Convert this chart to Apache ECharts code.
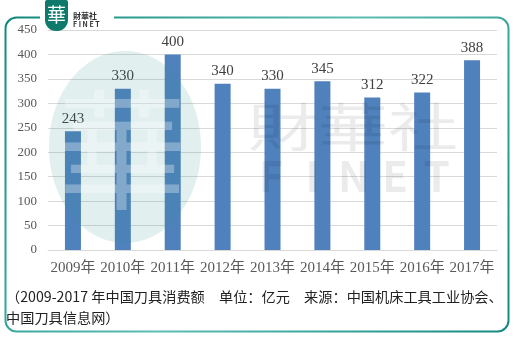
<!DOCTYPE html>
<html>
<head>
<meta charset="utf-8">
<script src="https://cdn.jsdelivr.net/npm/echarts@6/dist/echarts.min.js"></script>
<style>
  html, body { margin: 0; padding: 0; background: #fff; }
  #chart { width: 514px; height: 339px; }
</style>
</head>
<body>
<div id="chart"></div>
<script>
// Annual cutting-tool consumption in China (100 million yuan)
const years = ['2009年', '2010年', '2011年', '2012年', '2013年', '2014年', '2015年', '2016年', '2017年'];
const consumption = [243, 330, 400, 340, 330, 345, 312, 322, 388];
const yTicks = { min: 0, max: 450, interval: 50 };
const captionLines = [
  '（2009-2017 年中国刀具消费额　单位：亿元　来源：中国机床工具工业协会、',
  '中国刀具信息网）'
];

const serif = "'Liberation Serif', 'Times New Roman', 'Noto Sans CJK SC', serif";
const sans = "'Noto Sans CJK SC', 'Noto Sans', sans-serif";

const chart = echarts.init(document.getElementById('chart'), null, { renderer: 'canvas' });

const finetLetters = ['F', 'I', 'N', 'E', 'T'];

chart.setOption({
  animation: false,
  backgroundColor: '#ffffff',
  grid: { left: 48, right: 17, top: 30, bottom: 89, containLabel: false },
  xAxis: {
    type: 'category',
    data: years,
    axisLine: { show: true, lineStyle: { color: '#d9d9d9', width: 1 } },
    axisTick: { show: false },
    axisLabel: { interval: 0, color: '#595959', fontFamily: serif, fontSize: 15, margin: 11 }
  },
  yAxis: {
    type: 'value',
    min: yTicks.min,
    max: yTicks.max,
    interval: yTicks.interval,
    axisLine: { show: false },
    axisTick: { show: false },
    splitLine: { lineStyle: { color: '#d9d9d9', width: 1 } },
    axisLabel: { color: '#595959', fontFamily: serif, fontSize: 13, margin: 11 }
  },
  series: [{
    type: 'bar',
    data: consumption,
    barWidth: 16,
    itemStyle: { color: '#4f81bd' },
    label: {
      show: true,
      position: 'top',
      distance: 5,
      color: '#404040',
      fontFamily: serif,
      fontSize: 15
    }
  }],
  graphic: [
    // rounded frame
    {
      type: 'rect', z: 50, silent: true,
      shape: { x: 5.5, y: 17.5, width: 503, height: 314, r: 11 },
      style: {
        fill: 'none', lineWidth: 2,
        stroke: new echarts.graphic.LinearGradient(0, 0, 1, 1, [
          { offset: 0, color: '#11887d' },
          { offset: 0.5, color: '#5cbdb4' },
          { offset: 1, color: '#13897f' }
        ])
      }
    },
    // gap in the top edge behind the logo
    { type: 'rect', z: 51, silent: true, shape: { x: 40, y: 12, width: 74, height: 10 }, style: { fill: '#ffffff' } },
    // logo badge
    {
      type: 'rect', z: 52, silent: true,
      shape: { x: 45, y: 0, width: 23, height: 31, r: [2, 2, 11, 11] },
      style: { fill: '#0f7a6c' }
    },
    {
      type: 'text', z: 53, silent: true, x: 56.5, y: 15,
      style: { text: '華', fill: '#ffffff', font: '19px ' + sans, align: 'center', verticalAlign: 'middle' }
    },
    {
      type: 'text', z: 53, silent: true, x: 73, y: 16,
      style: { text: '財華社', fill: '#333333', font: 'bold 8px ' + sans, verticalAlign: 'middle' }
    },
    {
      type: 'text', z: 53, silent: true, x: 73, y: 24,
      style: { text: 'F I N E T', fill: '#333333', font: 'bold 7px ' + sans, verticalAlign: 'middle' }
    },
    // watermark seal
    {
      type: 'ellipse', z: 60, silent: true,
      shape: { cx: 125, cy: 147, rx: 76, ry: 96 },
      style: { fill: 'rgba(60,150,150,0.15)' }
    },
    {
      type: 'text', z: 61, silent: true, x: 122, y: 150,
      style: { text: '華', fill: 'rgba(255,255,255,0.3)', font: '130px ' + sans, align: 'center', verticalAlign: 'middle' }
    },
    // watermark name
    {
      type: 'text', z: 62, silent: true, x: 353, y: 127, scaleX: 1.35,
      style: { text: '財華社', fill: 'rgba(0,0,0,0.08)', font: '52px ' + sans, align: 'center', verticalAlign: 'middle' }
    },
    ...finetLetters.map((ch, i) => ({
      type: 'text', z: 62, silent: true, x: 271 + i * 41.4, y: 176,
      style: { text: ch, fill: 'rgba(0,0,0,0.08)', font: 'bold 42px ' + sans, align: 'center', verticalAlign: 'middle' }
    })),
    // caption
    ...captionLines.map((line, i) => ({
      type: 'text', z: 55, silent: true, x: 6, y: 297 + i * 21,
      style: { text: line, fill: '#222222', font: '14.2px ' + sans, verticalAlign: 'middle' }
    }))
  ]
});
</script>
</body>
</html>
